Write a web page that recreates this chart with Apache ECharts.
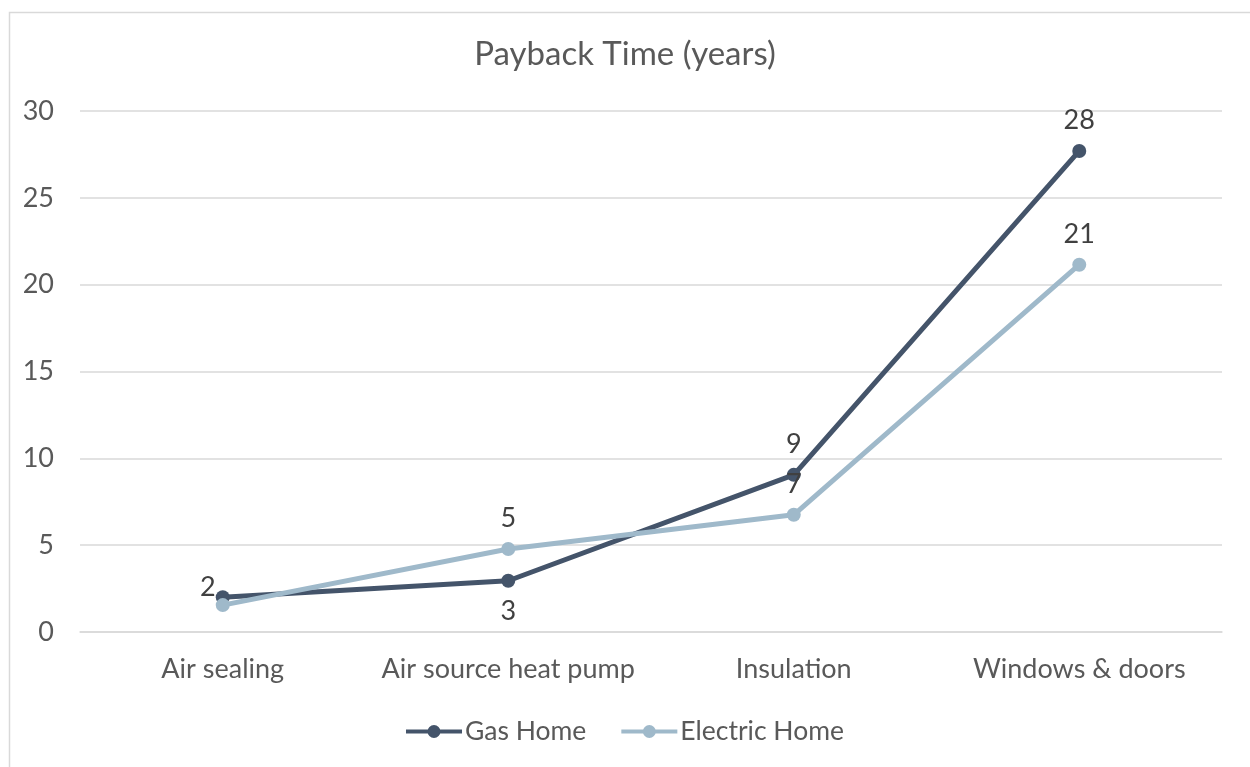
<!DOCTYPE html>
<html>
<head>
<meta charset="utf-8">
<script src="https://cdn.jsdelivr.net/npm/echarts@6/dist/echarts.min.js"></script>
<style>
html,body{margin:0;padding:0;background:#fff;}
#chart{width:1250px;height:767px;}
</style>
</head>
<body>
<div id="chart"></div>
<script>
const titleText = 'Payback Time (years)';
const categories = ['Air sealing', 'Air source heat pump', 'Insulation', 'Windows & doors'];
const gasHome = [2.0, 2.95, 9.05, 27.7];
const electricHome = [1.55, 4.78, 6.75, 21.15];
const gasLabels = ['2', '3', '9', '28'];
const electricLabels = ['', '5', '7', '21'];
const yTicks = [0, 5, 10, 15, 20, 25, 30];

const FONT = 'Lato, "Open Sans", sans-serif';
const TXT = '#595959';
const GAS = '#44546a';
const ELEC = '#9fb9ca';
const LEGEND_ICON = 'path://M0,5L22,5L22,9L0,9Z M34,5L56,5L56,9L34,9Z M21.5,7A6.5,6.5 0 1,1 34.5,7A6.5,6.5 0 1,1 21.5,7Z';

const chart = echarts.init(document.getElementById('chart'), null, {renderer: 'canvas'});

function gasData() {
  return gasHome.map((v, i) => {
    const d = {value: v, label: {formatter: gasLabels[i]}};
    if (i === 1) d.label.position = 'bottom';
    if (i === 0) { d.label.position = 'left'; d.label.distance = 0; d.label.offset = [0, -10]; }
    return d;
  });
}
function elecData() {
  return electricHome.map((v, i) => ({
    value: v,
    label: {show: electricLabels[i] !== '', formatter: electricLabels[i]}
  }));
}

chart.setOption({
  animation: false,
  backgroundColor: '#fff',
  textStyle: {fontFamily: FONT},
  graphic: [{
    type: 'rect', left: 7, top: 10, silent: true,
    shape: {width: 1260, height: 800},
    style: {fill: 'none', stroke: '#d9d9d9', lineWidth: 1.5}
  }],
  title: {
    text: titleText, left: 'center', top: 33,
    textStyle: {fontFamily: FONT, fontSize: 33, fontWeight: 'normal', color: TXT}
  },
  legend: {
    bottom: 17, left: 'center', itemGap: 35,
    itemWidth: 56, itemHeight: 14,
    textStyle: {fontFamily: FONT, fontSize: 26.5, color: TXT, padding: [0, 0, 0, -2]},
    data: [
      {name: 'Gas Home', icon: LEGEND_ICON},
      {name: 'Electric Home', icon: LEGEND_ICON}
    ]
  },
  grid: {left: 80, right: 28, top: 111, bottom: 135, containLabel: false},
  xAxis: {
    type: 'category', data: categories, boundaryGap: true,
    axisLine: {lineStyle: {color: '#d9d9d9', width: 1.5}},
    axisTick: {show: false},
    axisLabel: {fontFamily: FONT, fontSize: 27, color: TXT, margin: 24, interval: 0}
  },
  yAxis: {
    type: 'value', min: 0, max: 30, interval: 5,
    axisLine: {show: false}, axisTick: {show: false},
    axisLabel: {fontFamily: FONT, fontSize: 27, color: TXT, margin: 26,
      formatter: v => yTicks.includes(v) ? String(v) : ''},
    splitLine: {lineStyle: {color: '#d9d9d9', width: 1.5}}
  },
  series: [
    {
      name: 'Gas Home', type: 'line', data: gasData(),
      color: GAS, symbol: 'circle', symbolSize: 14,
      lineStyle: {color: GAS, width: 5}, itemStyle: {color: GAS},
      label: {show: true, position: 'top', distance: 10, fontFamily: FONT, fontSize: 27, color: '#404040'},
      z: 2
    },
    {
      name: 'Electric Home', type: 'line', data: elecData(),
      color: ELEC, symbol: 'circle', symbolSize: 14,
      lineStyle: {color: ELEC, width: 5}, itemStyle: {color: ELEC},
      label: {show: true, position: 'top', distance: 10, fontFamily: FONT, fontSize: 27, color: '#404040'},
      z: 3
    }
  ]
});
</script>
</body>
</html>
